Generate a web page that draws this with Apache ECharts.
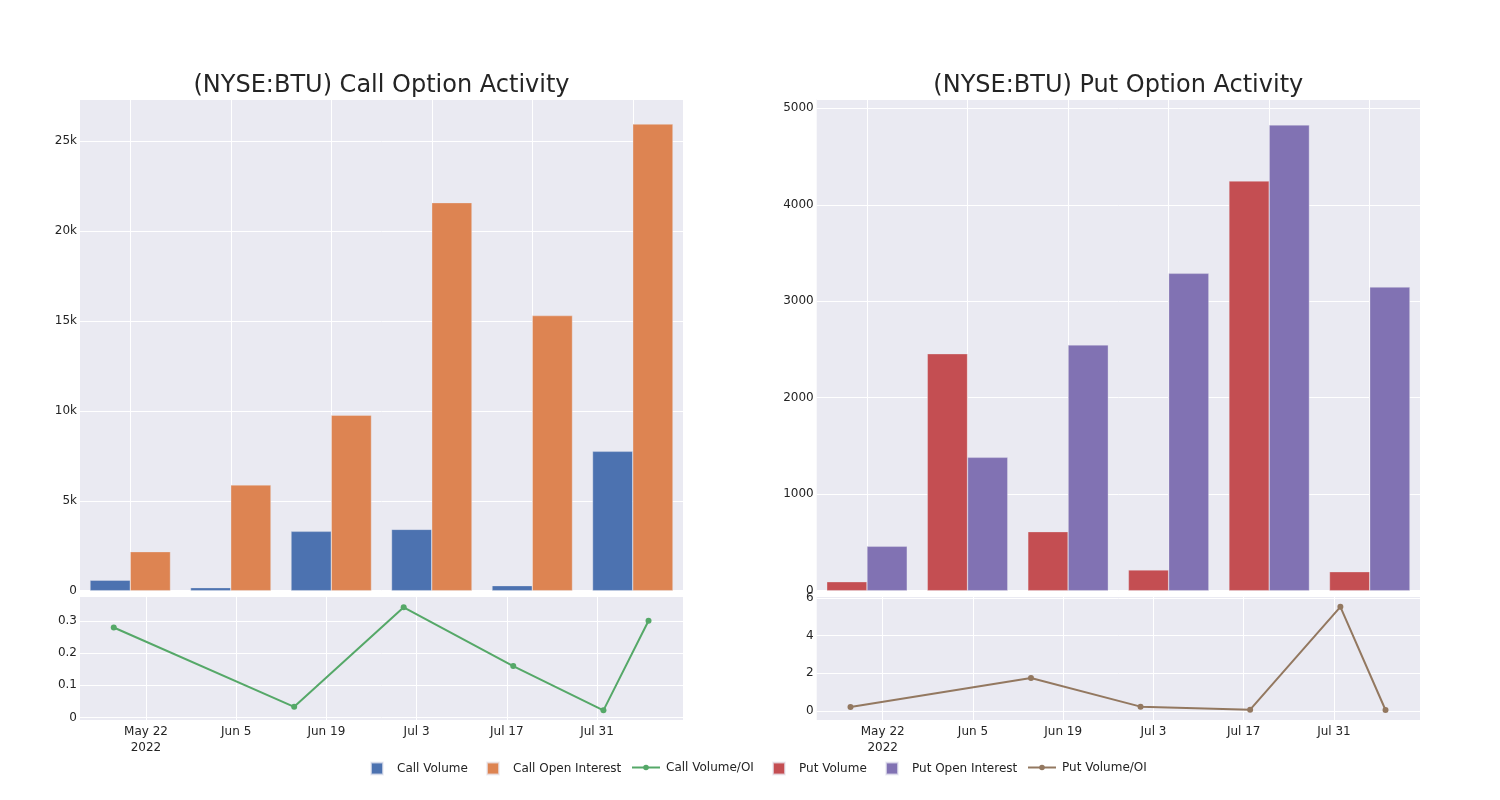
<!DOCTYPE html>
<html><head><meta charset="utf-8">
<script src="https://cdn.jsdelivr.net/npm/echarts@6/dist/echarts.min.js"></script>
<style>html,body{margin:0;padding:0;background:#fff}#c{width:1500px;height:800px}</style>
</head><body><div id="c"></div><script>
// ---- data ----
const categories = ['2022-05-17','2022-06-14','2022-07-01','2022-07-18','2022-08-01','2022-08-08'];
const callVolume = [580, 170, 3300, 3410, 280, 7750];
const callOpenInterest = [2170, 5880, 9760, 21580, 15300, 25950];
const putVolume = [93, 2456, 612, 215, 4246, 197];
const putOpenInterest = [460, 1382, 2547, 3289, 4827, 3147];
const ratioDates = ['2022-05-17','2022-06-14','2022-07-01','2022-07-18','2022-08-01','2022-08-08'];
const callVolumeOI = [0.28, 0.033, 0.343, 0.16, 0.022, 0.301];
const putVolumeOI = [0.21, 1.75, 0.23, 0.07, 5.53, 0.05];
const dateTicks = ['2022-05-22','2022-06-05','2022-06-19','2022-07-03','2022-07-17','2022-07-31'];
const dateTickLabels = ['May 22\n2022','Jun 5','Jun 19','Jul 3','Jul 17','Jul 31'];
const callRatioTicks = [0, 0.1, 0.2, 0.3];
const callRatioTickLabels = ['0','0.1','0.2','0.3'];
const putRatioTicks = [0, 2, 4, 6];
const putRatioTickLabels = ['0','2','4','6'];
const callBarTickLabels = ['0','5k','10k','15k','20k','25k'];
const putBarTickLabels = ['0','1000','2000','3000','4000','5000'];

// ---- helpers ----
const DAY = 86400000;
function ts(s){ const p = s.split('-').map(Number); return Date.UTC(p[0], p[1]-1, p[2]); }
const tickTs = dateTicks.map(ts);
const timeMin = ts('2022-05-22') - 10.24*DAY;
const timeMax = ts('2022-05-22') + 83.35*DAY;
const txt = 'rgb(36,36,36)';
const FONT = 'DejaVu Sans';
const BG = '#EAEAF2';
const C = {cv:'#4C72B0', coi:'#DD8452', cr:'#55A868', pv:'#C44E52', poi:'#8172B3', pr:'#937860'};

function labelFor(ticks, labels){ return v => { for (let i=0;i<ticks.length;i++){ if (Math.abs(ticks[i]-v) <= 1e-9 * Math.max(1,Math.abs(v))) return labels[i]; } return ''; }; }

const grids = [
  {left:80, top:99.3, width:603, height:491.4},
  {left:80, top:597, width:603, height:123},
  {left:816.7, top:99.3, width:603.3, height:491.4},
  {left:816.7, top:597, width:603.3, height:123}
].map(g => Object.assign(g, {show:true, backgroundColor:BG, borderWidth:0, containLabel:false}));

const splitW = {show:true, lineStyle:{color:'#fff', width:1}};
const lbl = {color:txt, fontFamily:FONT, fontSize:12};

function catAxis(gi){
  return {type:'category', gridIndex:gi, data:categories, boundaryGap:true,
    axisLine:{show:false}, axisTick:{show:false, alignWithLabel:true}, axisLabel:{show:false},
    splitLine:{show:true, alignWithLabel:true, lineStyle:{color:'#fff', width:1}}};
}
function dateAxis(gi){
  return {type:'value', gridIndex:gi, min:timeMin, max:timeMax, scale:true,
    axisLine:{show:false},
    axisTick:{show:false, customValues:tickTs},
    axisLabel:Object.assign({}, lbl, {customValues:tickTs, margin:4, lineHeight:16,
      formatter: labelFor(tickTs, dateTickLabels)}),
    splitLine:splitW};
}

const option = {
  animation:false,
  backgroundColor:'#fff',
  title:[
    {text:'(NYSE:BTU) Call Option Activity', left:381.5, top:74, padding:0, textAlign:'center',
      textStyle:{fontFamily:FONT, fontSize:24, fontWeight:'normal', color:txt}},
    {text:'(NYSE:BTU) Put Option Activity', left:1118.3, top:74, padding:0, textAlign:'center',
      textStyle:{fontFamily:FONT, fontSize:24, fontWeight:'normal', color:txt}}
  ],
  grid:grids,
  xAxis:[catAxis(0), dateAxis(1), catAxis(2), dateAxis(3)],
  yAxis:[
    {type:'value', gridIndex:0, min:0, max:27330, interval:5000,
      axisLine:{show:false}, axisTick:{show:false},
      axisLabel:Object.assign({}, lbl, {margin:3, showMaxLabel:false,
        formatter: v => callBarTickLabels[Math.round(v/5000)] || ''}),
      splitLine:splitW},
    {type:'value', gridIndex:1, min:-0.008, max:0.375,
      axisLine:{show:false}, axisTick:{show:false, customValues:callRatioTicks},
      axisLabel:Object.assign({}, lbl, {margin:3, customValues:callRatioTicks,
        formatter: labelFor(callRatioTicks, callRatioTickLabels)}),
      splitLine:splitW},
    {type:'value', gridIndex:2, min:0, max:5093, interval:1000,
      axisLine:{show:false}, axisTick:{show:false},
      axisLabel:Object.assign({}, lbl, {margin:3, showMaxLabel:false,
        formatter: v => putBarTickLabels[Math.round(v/1000)] || ''}),
      splitLine:splitW},
    {type:'value', gridIndex:3, min:-0.48, max:6.05,
      axisLine:{show:false}, axisTick:{show:false, customValues:putRatioTicks},
      axisLabel:Object.assign({}, lbl, {margin:3, customValues:putRatioTicks,
        formatter: labelFor(putRatioTicks, putRatioTickLabels)}),
      splitLine:splitW}
  ],
  legend:[
    {name:'Call Volume', left:370, w:12},
    {name:'Call Open Interest', left:486, w:12},
    {name:'Call Volume/OI', left:631, w:28},
    {name:'Put Volume', left:772, w:12},
    {name:'Put Open Interest', left:885, w:12},
    {name:'Put Volume/OI', left:1027, w:28}
  ].map(o => {
    const isBar = o.w === 12;
    const d = isBar ? {name:o.name, icon:'rect'} : {name:o.name};
    const h = isBar ? 12 : 7;
    return {data:[d], left:o.left, top:761.5, padding:0, itemWidth:o.w, itemHeight:h, selectedMode:false,
      textStyle:{color:txt, fontFamily:FONT, fontSize:12, padding: isBar ? [0,0,0,9] : [0,0,0,1]}};
  }),
  series:[
    {name:'Call Volume', type:'bar', xAxisIndex:0, yAxisIndex:0, data:callVolume,
      barGap:'0%', barCategoryGap:'20%', itemStyle:{color:C.cv, borderColor:'rgba(234,234,242,0.7)', borderWidth:0.5}},
    {name:'Call Open Interest', type:'bar', xAxisIndex:0, yAxisIndex:0, data:callOpenInterest,
      barGap:'0%', barCategoryGap:'20%', itemStyle:{color:C.coi, borderColor:'rgba(234,234,242,0.7)', borderWidth:0.5}},
    {name:'Call Volume/OI', type:'line', xAxisIndex:1, yAxisIndex:1,
      data:ratioDates.map((d,i)=>[ts(d), callVolumeOI[i]]),
      symbol:'circle', symbolSize:6, lineStyle:{color:C.cr, width:2}, itemStyle:{color:C.cr}},
    {name:'Put Volume', type:'bar', xAxisIndex:2, yAxisIndex:2, data:putVolume,
      barGap:'0%', barCategoryGap:'20%', itemStyle:{color:C.pv, borderColor:'rgba(234,234,242,0.7)', borderWidth:0.5}},
    {name:'Put Open Interest', type:'bar', xAxisIndex:2, yAxisIndex:2, data:putOpenInterest,
      barGap:'0%', barCategoryGap:'20%', itemStyle:{color:C.poi, borderColor:'rgba(234,234,242,0.7)', borderWidth:0.5}},
    {name:'Put Volume/OI', type:'line', xAxisIndex:3, yAxisIndex:3,
      data:ratioDates.map((d,i)=>[ts(d), putVolumeOI[i]]),
      symbol:'circle', symbolSize:6, lineStyle:{color:C.pr, width:2}, itemStyle:{color:C.pr}}
  ]
};
echarts.init(document.getElementById('c'), null, {renderer:'canvas'}).setOption(option);
</script></body></html>
